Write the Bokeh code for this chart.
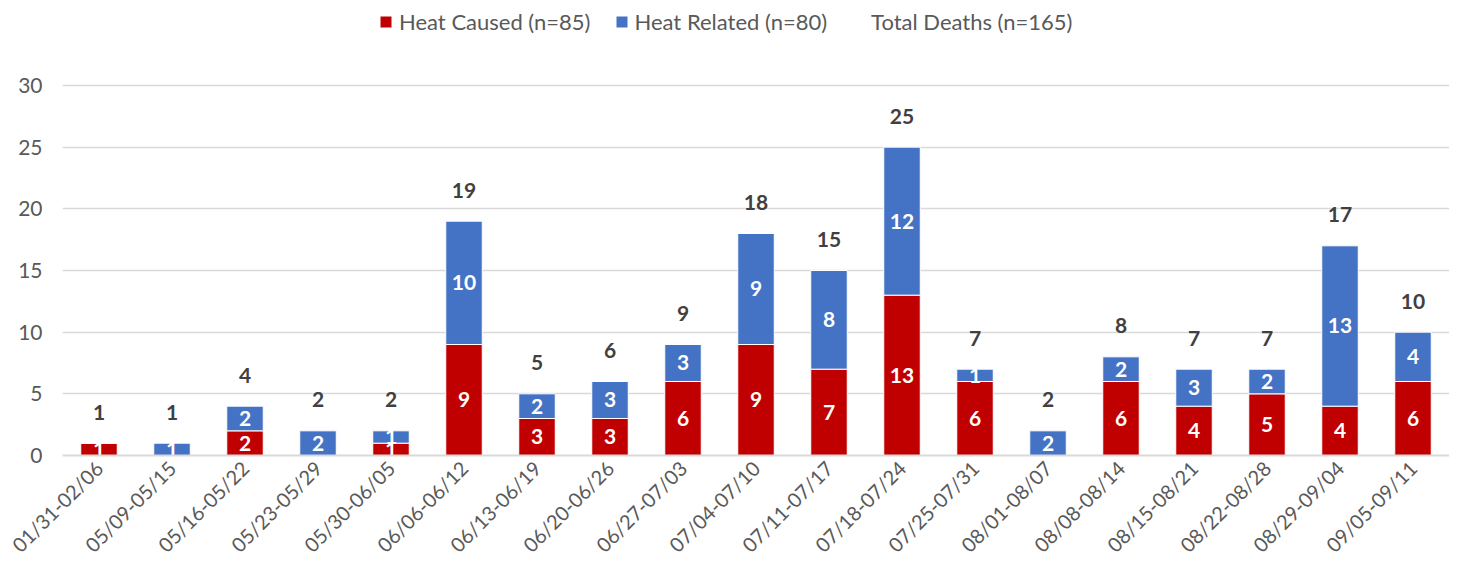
import math
from bokeh.plotting import figure
from bokeh.models import ColumnDataSource, Legend, LegendItem, FactorRange
from bokeh.core.properties import value
from bokeh.embed import file_html
from bokeh.resources import INLINE

weeks = ["01/31-02/06", "05/09-05/15", "05/16-05/22", "05/23-05/29", "05/30-06/05",
         "06/06-06/12", "06/13-06/19", "06/20-06/26", "06/27-07/03", "07/04-07/10",
         "07/11-07/17", "07/18-07/24", "07/25-07/31", "08/01-08/07", "08/08-08/14",
         "08/15-08/21", "08/22-08/28", "08/29-09/04", "09/05-09/11"]
heat_caused = [1, 0, 2, 0, 1, 9, 3, 3, 6, 9, 7, 13, 6, 0, 6, 4, 5, 4, 6]
heat_related = [0, 1, 2, 2, 1, 10, 2, 3, 3, 9, 8, 12, 1, 2, 2, 3, 2, 13, 4]
legend_labels = ["Heat Caused (n=85)", "Heat Related (n=80)", "Total Deaths (n=165)"]
y_ticks = [0, 5, 10, 15, 20, 25, 30]

RED = "#C00000"
BLUE = "#4472C4"
FONT = "Lato"

totals = [a + b for a, b in zip(heat_caused, heat_related)]
src = ColumnDataSource(dict(week=weeks, caused=heat_caused, related=heat_related,
                            total=totals, total_txt=[str(t) for t in totals]))

# y range extended above 30 so the legend sits inside the frame (grid only at ticks)
p = figure(x_range=FactorRange(*weeks, range_padding=0), y_range=(0, 36.89),
           width=1449, height=568, output_backend="svg", toolbar_location=None,
           min_border_left=62, min_border_right=0, min_border_top=0, min_border_bottom=100)

rs = p.vbar_stack(["caused", "related"], x="week", width=0.5, source=src,
                  color=[RED, BLUE], line_color="white", line_width=1)

# segment labels
cx, cy, ct = [], [], []
rx, ry, rt = [], [], []
for w, a, b in zip(weeks, heat_caused, heat_related):
    if a > 0:
        cx.append(w); cy.append(a / 2); ct.append(str(a))
    if b > 0:
        rx.append(w); ry.append(a + b / 2); rt.append(str(b))
p.text(x=cx + rx, y=cy + ry, text=ct + rt, text_color="white", text_font=value(FONT),
       text_font_style="bold", text_font_size="21px", text_align="center", text_baseline="middle")

# total labels
p.text(x="week", y="total", text="total_txt", source=src, y_offset=-31,
       text_color="#404040", text_font=value(FONT), text_font_style="bold",
       text_font_size="21px", text_align="center", text_baseline="middle")

dummy = p.scatter(x=[weeks[0]], y=[0], alpha=0, size=1)

legend = Legend(items=[LegendItem(label=legend_labels[0], renderers=[rs[0]]),
                       LegendItem(label=legend_labels[1], renderers=[rs[1]]),
                       LegendItem(label=legend_labels[2], renderers=[dummy])],
                orientation="horizontal", location=(316, 420),
                label_text_font=FONT, label_text_font_size="22px", label_text_color="#595959",
                glyph_width=15, glyph_height=15, spacing=23, label_standoff=6,
                border_line_color=None, background_fill_alpha=0, padding=0, margin=0)
p.add_layout(legend, "center")

p.yaxis.ticker = y_ticks
p.yaxis.axis_line_color = None
p.yaxis.major_tick_line_color = None
p.yaxis.minor_tick_line_color = None
p.yaxis.major_label_text_font = FONT
p.yaxis.major_label_text_font_size = "21px"
p.yaxis.major_label_text_color = "#595959"
p.yaxis.major_label_standoff = 14

p.xaxis.axis_line_color = "#d9d9d9"
p.xaxis.axis_line_width = 2
p.xaxis.major_tick_line_color = None
p.xaxis.minor_tick_line_color = None
p.xaxis.major_label_orientation = math.pi / 4
p.xaxis.major_label_text_font = FONT
p.xaxis.major_label_text_font_size = "20px"
p.xaxis.major_label_text_color = "#595959"
p.xaxis.major_label_standoff = 3

p.xgrid.grid_line_color = None
p.ygrid.grid_line_color = "#d9d9d9"
p.ygrid.grid_line_width = 1.5
p.outline_line_color = None

open("out.html", "w").write(file_html(p, INLINE))
